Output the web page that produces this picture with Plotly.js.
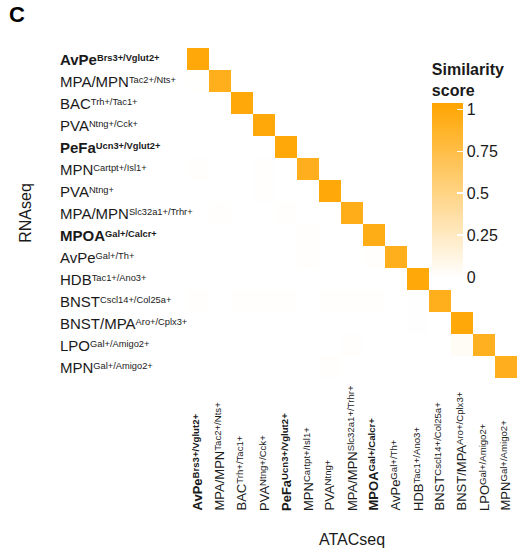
<!DOCTYPE html>
<html>
<head>
<meta charset="utf-8">
<script src="https://cdn.plot.ly/plotly-3.0.1.min.js"></script>
<style>
  html, body { margin: 0; padding: 0; background: #ffffff; }
  #chart { width: 523px; height: 556px; }
</style>
</head>
<body>
<div id="chart"></div>
<script>
// Cluster names (same order on both axes) and their marker genes
const cellTypes = ["AvPe", "MPA/MPN", "BAC", "PVA", "PeFa", "MPN", "PVA", "MPA/MPN",
                   "MPOA", "AvPe", "HDB", "BNST", "BNST/MPA", "LPO", "MPN"];
const markerGenes = ["Brs3+/Vglut2+", "Tac2+/Nts+", "Trh+/Tac1+", "Ntng+/Cck+", "Ucn3+/Vglut2+",
                     "Cartpt+/Isl1+", "Ntng+", "Slc32a1+/Trhr+", "Gal+/Calcr+", "Gal+/Th+",
                     "Tac1+/Ano3+", "Cscl14+/Col25a+", "Aro+/Cplx3+", "Gal+/Amigo2+", "Gal+/Amigo2+"];
const boldTypes = [true, false, false, false, true, false, false, false,
                   true, false, false, false, false, false, false];

// Similarity score: rows = RNAseq clusters, columns = ATACseq clusters
const similarity = [
  [1.00,  0,     0,     0,     0,     0,     0,     0,     0,     0,     0,     0,    0,    0,    0   ],
  [0.005, 0.93,  0,     0,     0,     0,     0,     0,     0,     0,     0,     0,    0,    0,    0   ],
  [0,     0,     1.00,  0,     0,     0,     0,     0,     0,     0,     0,     0,    0,    0,    0   ],
  [0,     0,     0,     1.00,  0,     0,     0,     0,     0,     0,     0,     0,    0,    0,    0   ],
  [0,     0,     0,     0,     1.00,  0,     0,     0,     0,     0,     0,     0,    0,    0,    0   ],
  [0.01,  0,     0,     0.01,  0,     0.92,  0,     0,     0,     0,     0,     0,    0,    0,    0   ],
  [0,     0,     0,     0.01,  0,     0,     1.00,  0,     0,     0,     0,     0,    0,    0,    0   ],
  [0,     0.008, 0,     0,     0.008, 0,     0,     0.94,  0,     0,     0,     0,    0,    0,    0   ],
  [0,     0,     0,     0,     0,     0.008, 0,     0,     0.95,  0,     0,     0,    0,    0,    0   ],
  [0,     0,     0,     0,     0,     0.01,  0,     0,     0.008, 0.93,  0,     0,    0,    0,    0   ],
  [0,     0,     0,     0,     0,     0,     0,     0,     0,     0,     1.00,  0,    0,    0,    0   ],
  [0.008, 0,     0.008, 0.01,  0.008, 0,     0.008, 0.008, 0.01,  0,     0.006, 0.93, 0,    0,    0   ],
  [0,     0,     0,     0,     0,     0,     0,     0,     0,     0,     0.006, 0,    1.00, 0,    0   ],
  [0,     0,     0,     0,     0,     0,     0,     0.008, 0,     0,     0,     0,    0.04, 0.91, 0   ],
  [0,     0,     0,     0,     0,     0,     0.008, 0,     0,     0,     0,     0,    0,    0,    0.92]
];

const colorTicks = [0, 0.25, 0.5, 0.75, 1];
const colorTickText = ["0", "0.25", "0.5", "0.75", "1"];

const FONT = "Liberation Sans, Arial, Helvetica, sans-serif";
const INK = "#1a1a1a";

// Category keys keep duplicated names distinct
const keys = cellTypes.map((n, i) => "c" + i);

// Marker genes set as a small raised run after the cluster name
function labelHtml(i, supSize, shift) {
  const sup = '<span style="font-size:' + supSize + 'px;baseline-shift:' + shift + 'px">' +
              markerGenes[i] + '</span>';
  const body = cellTypes[i] + sup;
  return boldTypes[i] ? "<b>" + body + "</b>" : body;
}

const trace = {
  type: "heatmap",
  x: keys,
  y: keys,
  z: similarity,
  zmin: 0,
  zmax: 1.04,
  colorscale: [[0, "#ffffff"], [1, "#ffa500"]],
  showscale: true,
  hoverinfo: "skip",
  colorbar: {
    x: 0.742, xanchor: "left", xpad: 0,
    y: 0.635, yanchor: "middle", ypad: 0,
    len: 217, lenmode: "pixels",
    thickness: 31,
    outlinewidth: 0,
    ticks: "inside", ticklen: 6, tickwidth: 1.5, tickcolor: "#ffffff",
    tickvals: colorTicks, ticktext: colorTickText,
    tickfont: { family: FONT, size: 16, color: INK },
    title: { text: "<b>Similarity<br>score</b>", side: "top",
             font: { family: FONT, size: 16, color: INK } }
  }
};

const annotations = [];
// Row labels (RNAseq), left aligned
keys.forEach((k, i) => {
  annotations.push({
    xref: "paper", yref: "y", x: -0.391, y: k,
    xanchor: "left", yanchor: "middle", showarrow: false,
    text: labelHtml(i, 9.3, 4),
    font: { family: FONT, size: 15, color: INK }
  });
});
// Column labels (ATACseq), rotated and bottom aligned
keys.forEach((k, i) => {
  annotations.push({
    xref: "x", yref: "paper", x: k, y: -0.409,
    xanchor: "center", yanchor: "bottom", showarrow: false,
    textangle: -90,
    text: labelHtml(i, 9.6, 3.5),
    font: { family: FONT, size: 13, color: INK }
  });
});
// Panel letter
annotations.push({
  xref: "paper", yref: "paper", x: -0.545, y: 1.1,
  xanchor: "left", yanchor: "middle", showarrow: false,
  text: "<b>C</b>",
  font: { family: FONT, size: 22, color: "#000000" }
});

const layout = {
  width: 523, height: 556,
  margin: { l: 187, r: 6, t: 48, b: 178, pad: 0 },
  paper_bgcolor: "#ffffff",
  plot_bgcolor: "#ffffff",
  font: { family: FONT, color: INK },
  xaxis: {
    showticklabels: false, ticks: "", showgrid: false, zeroline: false, showline: false,
    title: { text: "ATACseq", standoff: 155, font: { family: FONT, size: 16, color: INK } },
    automargin: false
  },
  yaxis: {
    autorange: "reversed",
    showticklabels: false, ticks: "", showgrid: false, zeroline: false, showline: false,
    title: { text: "RNAseq", standoff: 150, font: { family: FONT, size: 16, color: INK } },
    automargin: false
  },
  annotations: annotations
};

Plotly.newPlot("chart", [trace], layout, { displayModeBar: false, staticPlot: true });
</script>
</body>
</html>
